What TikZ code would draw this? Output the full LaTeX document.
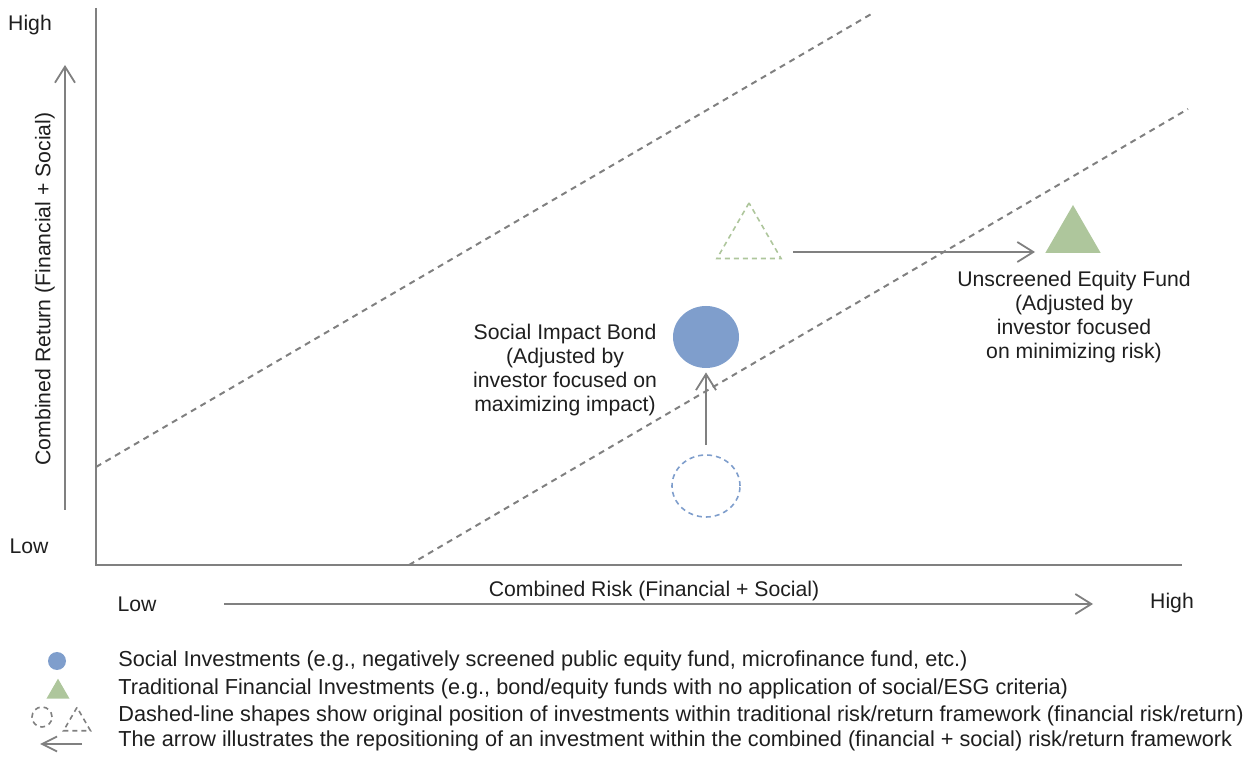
\documentclass[tikz,border=0pt]{standalone}
\usepackage{fontspec}
\setmainfont{Liberation Sans}
\usetikzlibrary{arrows.meta, shapes.geometric}
\definecolor{axisgray}{HTML}{808080}
\definecolor{sibblue}{HTML}{7F9ECC}
\definecolor{eqgreen}{HTML}{AEC69C}
\definecolor{txt}{HTML}{1E1E1E}
\newcommand{\lbl}{\fontsize{10.6}{12}\selectfont}
\newcommand{\keylbl}{\fontsize{10.85}{12}\selectfont}

\begin{document}
\begin{tikzpicture}[x=0.5pt, y=-0.5pt,
    every node/.style={font=\lbl, text=txt},
    axis/.style={draw=axisgray, line width=1.2pt},
    guide/.style={draw=axisgray, line width=1pt, dash pattern=on 3pt off 2.5pt},
    arr/.style={draw=axisgray, line width=0.9pt, -{Straight Barb[length=8pt, width=10pt]}},
    keyarr/.style={draw=axisgray, line width=0.9pt, -{Straight Barb[length=7.5pt, width=7.5pt]}},
    dot/.style={ellipse, inner sep=0pt, minimum width=33pt, minimum height=31pt},
    tri/.style={regular polygon, regular polygon sides=3, inner sep=0pt},
    old/.style={line width=0.8pt, dash pattern=on 2.5pt off 2pt},
    key/.style={anchor=west, inner xsep=0pt, font=\keylbl}]
    \useasboundingbox (0,0) rectangle (1248,758);

    % Axes
    \draw[axis] (96,8) -- (96,565) -- (1182,565);

    % Diagonal guides
    \draw[guide] (96,467) -- (873,13);
    \draw[guide] (409,565) -- (1188,109);

    % Axis arrows
    \coordinate (retlo) at (65,510);
    \coordinate (rethi) at (65,65);
    \draw[arr] (retlo) -- (rethi);
    \coordinate (risklo) at (224,604);
    \coordinate (riskhi) at (1093,604);
    \draw[arr] (risklo) -- (riskhi);

    % Axis labels
    \node (hiret) at (30,25) {High};
    \node (loret) at (29,546) {Low};
    \node (lorisk) at (137,604) {Low};
    \node (hirisk) at (1172,603) {High};
    \node (risklbl) at (654,591) {Combined Risk (Financial + Social)};
    \node[rotate=90] (retlbl) at (45,289) {Combined Return (Financial + Social)};

    % Social impact bond
    \node[dot, old, draw=sibblue, minimum width=34pt] (sibold) at (706,486) {};
    \node[dot, fill=sibblue] (sib) at (706,337) {};
    \draw[arr, shorten <=4.5pt, shorten >=2pt] (sibold) -- (sib);
    \node[align=center] (siblbl) at (565,370)
        {Social Impact Bond\\(Adjusted by\\investor focused on\\maximizing impact)};

    % Equity fund
    \node[tri, old, draw=eqgreen, minimum size=37pt] (eqold) at (749,240) {};
    \node[tri, fill=eqgreen, minimum size=32pt] (eq) at (1073,237) {};
    \coordinate (eqfrom) at (793,252);
    \coordinate (eqto) at (1035,252);
    \draw[arr] (eqfrom) -- (eqto);
    \node[align=center] (eqlbl) at (1074,317)
        {Unscreened Equity Fund\\(Adjusted by\\investor focused\\on minimizing risk)};

    % Legend
    \node[dot, fill=sibblue, minimum width=9pt, minimum height=9pt] (keysib) at (57,661) {};
    \node[tri, fill=eqgreen, minimum size=13.3pt] (keyeq) at (58,692) {};
    \node[dot, old, draw=axisgray, minimum width=10pt, minimum height=10pt] (keyold) at (42,717) {};
    \node[tri, old, draw=axisgray, minimum size=15.6pt] (keyoldeq) at (77,723) {};
    \coordinate (keyfrom) at (82,744);
    \coordinate (keyto) at (40,744);
    \draw[keyarr] (keyfrom) -- (keyto);

    \node[key] (keysibtxt) at (118,661)
        {Social Investments (e.g., negatively screened public equity fund, microfinance fund, etc.)};
    \node[key] (keyeqtxt) at (118,689)
        {Traditional Financial Investments (e.g., bond/equity funds with no application of social/ESG criteria)};
    \node[key] (keyoldtxt) at (118,716)
        {Dashed-line shapes show original position of investments within traditional risk/return framework (financial risk/return)};
    \node[key] (keyarrtxt) at (118,741)
        {The arrow illustrates the repositioning of an investment within the combined (financial + social) risk/return framework};
\end{tikzpicture}
\end{document}
